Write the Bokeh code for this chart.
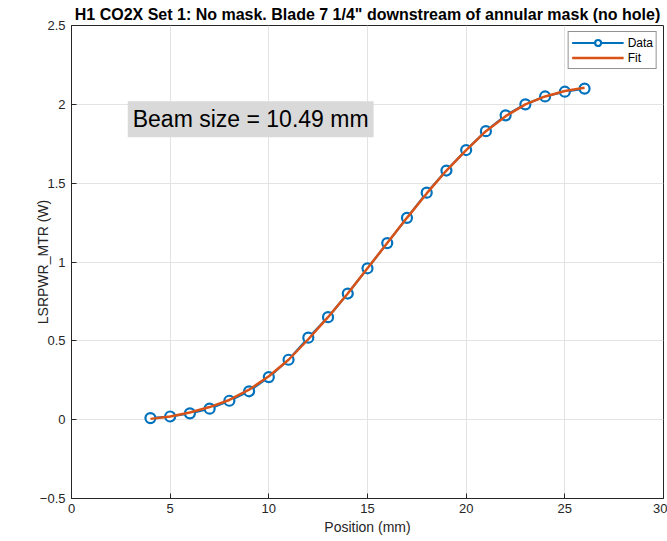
from bokeh.plotting import figure
from bokeh.models import Range1d, Label, Legend, LegendItem, FixedTicker
from bokeh.embed import file_html
from bokeh.resources import INLINE

# ---- data ----
position = [4, 5, 6, 7, 8, 9, 10, 11, 12, 13, 14, 15, 16, 17, 18, 19, 20,
            21, 22, 23, 24, 25, 26]
power = [0.01, 0.02, 0.04, 0.07, 0.12, 0.18, 0.27, 0.38, 0.52, 0.65, 0.80,
         0.96, 1.12, 1.28, 1.44, 1.58, 1.71, 1.83, 1.93, 2.00, 2.05, 2.08,
         2.10]
fit_power = [0.005, 0.02, 0.045, 0.08, 0.125, 0.19, 0.275, 0.38, 0.51, 0.65,
             0.80, 0.96, 1.12, 1.28, 1.435, 1.58, 1.71, 1.83, 1.925, 2.00,
             2.05, 2.085, 2.105]
x_ticks = [0, 5, 10, 15, 20, 25, 30]
y_ticks = [-0.5, 0, 0.5, 1, 1.5, 2, 2.5]
title_text = 'H1 CO2X Set 1: No mask. Blade 7 1/4" downstream of annular mask (no hole)'
beam_text = "Beam size = 10.49 mm"

FONT = "Liberation Sans"
TXT = "#262626"
BLUE = "#0072BD"
ORANGE = "#D95319"

p = figure(width=667, height=541, output_backend="svg", toolbar_location=None,
           x_range=Range1d(0, 30), y_range=Range1d(-0.5, 2.5),
           min_border_left=71, min_border_right=4, min_border_top=0,
           min_border_bottom=43)

p.title.text = title_text
p.title.align = "center"
p.title.text_font = FONT
p.title.text_font_size = "16px"
p.title.text_font_style = "bold"
p.title.text_color = "black"
p.title.standoff = 6
p.title.offset = 0

p.outline_line_color = TXT
p.outline_line_width = 1
p.outline_line_alpha = 1

for ax in (p.xaxis[0], p.yaxis[0]):
    ax.major_tick_in = 5
    ax.major_tick_out = 0
    ax.minor_tick_line_color = None
    ax.axis_line_color = TXT
    ax.major_tick_line_color = TXT
    ax.major_label_text_font = FONT
    ax.major_label_text_font_size = "13px"
    ax.major_label_text_color = TXT
    ax.axis_label_text_font = FONT
    ax.axis_label_text_font_size = "14px"
    ax.axis_label_text_font_style = "normal"
    ax.axis_label_text_color = TXT

p.xaxis[0].ticker = FixedTicker(ticks=x_ticks)
p.yaxis[0].ticker = FixedTicker(ticks=y_ticks)
p.xaxis[0].axis_label = "Position (mm)"
p.yaxis[0].axis_label = "LSRPWR_MTR (W)"
p.xaxis[0].major_label_standoff = 5
p.xaxis[0].axis_label_standoff = 3
p.yaxis[0].major_label_standoff = 6
p.yaxis[0].axis_label_standoff = -14

p.xgrid.ticker = FixedTicker(ticks=x_ticks)
p.ygrid.ticker = FixedTicker(ticks=y_ticks)
for g in (p.xgrid[0], p.ygrid[0]):
    g.grid_line_color = "#e3e3e3"
    g.grid_line_width = 1

data_line = p.line(position, power, line_color=BLUE, line_width=2.2)
data_pts = p.scatter(position, power, marker="circle", size=10,
                     line_color=BLUE, line_width=2.2, fill_color="white")
fit_line = p.line(position, fit_power, line_color=ORANGE, line_width=2.5)

legend = Legend(items=[LegendItem(label="Data", renderers=[data_line, data_pts]),
                       LegendItem(label="Fit", renderers=[fit_line])],
                location="top_right")
legend.margin = 6
legend.padding = 3
legend.spacing = 0
legend.glyph_width = 52
legend.glyph_height = 15
legend.label_height = 15
legend.label_standoff = 4
legend.label_text_font = FONT
legend.label_text_font_size = "12px"
legend.label_text_color = "black"
legend.border_line_color = TXT
legend.border_line_width = 1
legend.background_fill_color = "white"
legend.background_fill_alpha = 1
p.add_layout(legend)

beam = Label(x=2.85, y=1.905, text=beam_text, text_font=FONT,
             text_font_size="23px", text_color="black",
             text_baseline="middle", text_align="left",
             background_fill_color="#d9d9d9", background_fill_alpha=1,
             padding=5)
p.add_layout(beam)

open("out.html", "w").write(file_html(p, INLINE))
